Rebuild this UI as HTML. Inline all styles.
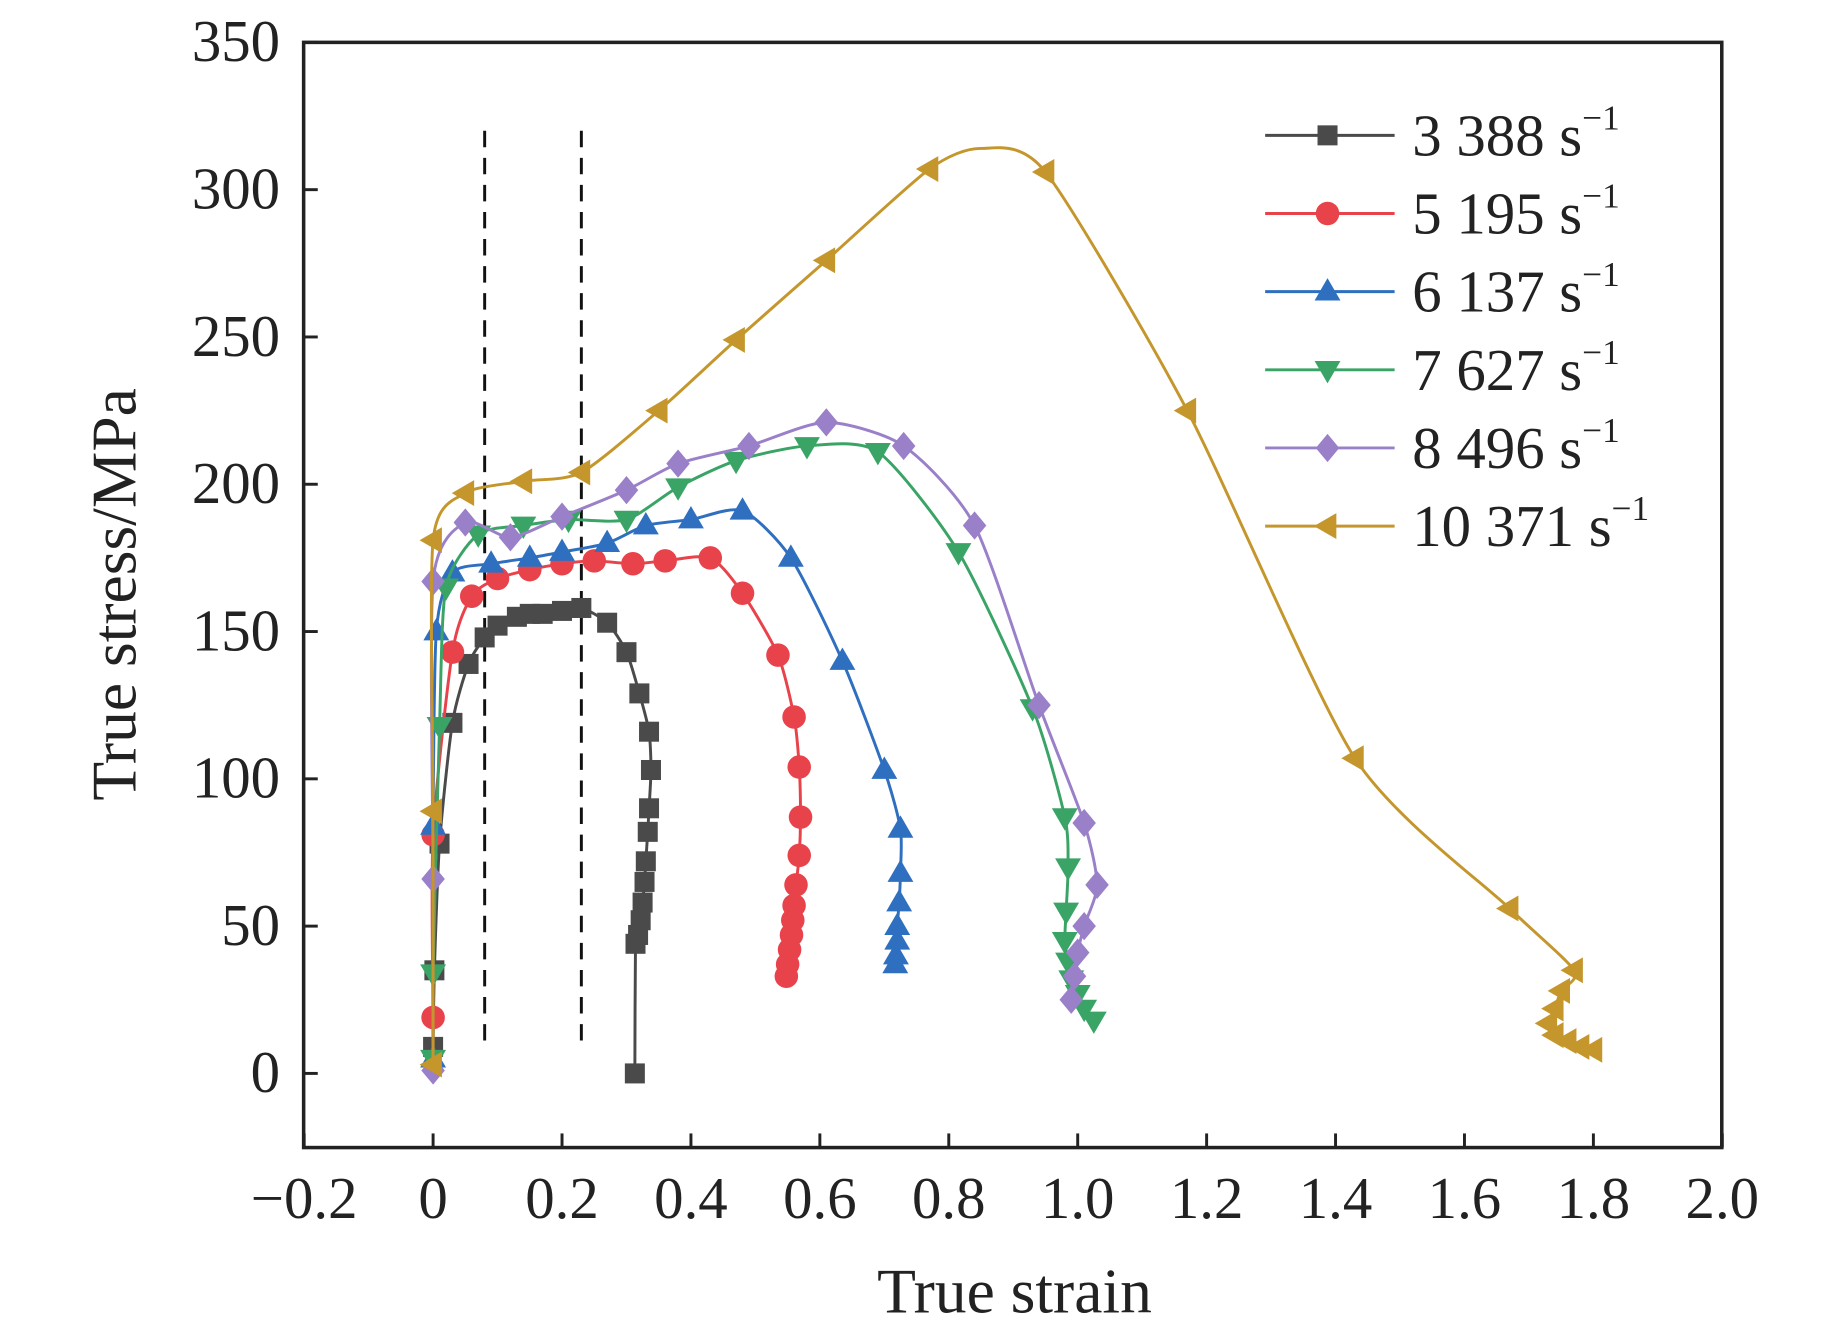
<!DOCTYPE html>
<html><head><meta charset="utf-8"><style>
html,body{margin:0;padding:0;background:#fff;}
svg{display:block;}
text{font-family:"Liberation Serif",serif;fill:#222;}
</style></head><body>
<svg id="chart" width="1843" height="1330" viewBox="0 0 1566 1130" preserveAspectRatio="none" xmlns="http://www.w3.org/2000/svg">
<rect x="0" y="0" width="1566" height="1130" fill="#fff"/>
<g id="plot"></g>
<rect x="258" y="36" width="1205" height="939" fill="none" stroke="#222" stroke-width="3"/>
<g id="axes"></g>
<text x="862" y="1115" font-size="54" text-anchor="middle">True strain</text>
<text transform="translate(115,505) rotate(-90)" font-size="54" text-anchor="middle">True stress/MPa</text>
<g id="legend"></g>
</svg>
<script>
const xTicks=[-0.2,0,0.2,0.4,0.6,0.8,1.0,1.2,1.4,1.6,1.8,2.0];
const xTickLabels=["\u22120.2","0","0.2","0.4","0.6","0.8","1.0","1.2","1.4","1.6","1.8","2.0"];
const yTicks=[0,50,100,150,200,250,300,350];
const seriesNames=["3 388","5 195","6 137","7 627","8 496","10 371"];
const s1x=[0,0.002,0.01,0.03,0.055,0.08,0.1,0.13,0.15,0.17,0.2,0.23,0.27,0.3,0.32,0.335,0.338,0.335,0.333,0.33,0.328,0.325,0.322,0.318,0.314,0.313];
const s1y=[9,35,78,119,139,148,152,155,156,156,157,158,153,143,129,116,103,90,82,72,65,58,52,47,44,0];
const s2x=[0,0,0.03,0.06,0.1,0.15,0.2,0.25,0.31,0.36,0.43,0.48,0.535,0.56,0.568,0.57,0.568,0.563,0.56,0.558,0.556,0.553,0.55,0.548];
const s2y=[19,81,143,162,168,171,173,174,173,174,175,163,142,121,104,87,74,64,57,52,47,42,37,33];
const s3x=[0,0,0.005,0.03,0.09,0.15,0.2,0.27,0.33,0.4,0.48,0.555,0.635,0.7,0.725,0.725,0.723,0.72,0.72,0.718,0.717];
const s3y=[5,84,150,170,173,175,177,180,186,188,191,175,140,103,83,68,58,50,45,40,37];
const s4x=[0,0,0.01,0.02,0.07,0.14,0.21,0.3,0.38,0.47,0.58,0.69,0.815,0.93,0.98,0.985,0.982,0.98,0.985,0.99,1.0,1.01,1.025];
const s4y=[5,34,118,165,183,186,188,188,199,208,213,211,177,124,87,70,55,45,38,32,27,22,18];
const s5x=[0,0,0,0.05,0.12,0.2,0.3,0.38,0.49,0.61,0.73,0.84,0.94,1.01,1.03,1.01,1.0,0.995,0.99];
const s5y=[1,66,167,187,182,189,198,207,213,221,213,186,125,85,64,50,41,33,25];
const s6x=[0,0,0,0.05,0.14,0.23,0.35,0.47,0.61,0.77,0.85,0.95,1.17,1.43,1.67,1.77,1.75,1.74,1.73,1.74,1.76,1.78,1.8];
const s6y=[3,89,181,197,201,204,225,249,276,307,314,306,225,107,56,35,28,22,17,13,11,9,8];
const s6marked=[1,1,1,1,1,1,1,1,1,1,0,1,1,1,1,1,1,1,1,1,1,1,1];
const guideLines=[0.08,0.23];
const colors=["#4a4a4a","#e8424b","#2f6fc0","#3aa466","#9a80c8","#c4962c"];
const shapes=["square","circle","up","down","diamond","left"];
const NS="http://www.w3.org/2000/svg";
const X=v=>368+v*(1205/2.2);
const Y=v=>912-v*(876/350);
function mk(tag,attrs,parent){const e=document.createElementNS(NS,tag);for(const k in attrs)e.setAttribute(k,attrs[k]);parent.appendChild(e);return e;}
function marker(shape,cx,cy,color,parent){
  const r=10;let e;
  if(shape==="square")e=mk("rect",{x:cx-r*0.85,y:cy-r*0.85,width:r*1.7,height:r*1.7,fill:color},parent);
  else if(shape==="circle")e=mk("circle",{cx:cx,cy:cy,r:r,fill:color},parent);
  else{let p;
    if(shape==="up")p=[[cx,cy-r*1.15],[cx+r*1.1,cy+r*0.75],[cx-r*1.1,cy+r*0.75]];
    else if(shape==="down")p=[[cx,cy+r*1.15],[cx+r*1.1,cy-r*0.75],[cx-r*1.1,cy-r*0.75]];
    else if(shape==="diamond")p=[[cx,cy-r*1.2],[cx+r,cy],[cx,cy+r*1.2],[cx-r,cy]];
    else p=[[cx-r*1.15,cy],[cx+r*0.75,cy-r*1.1],[cx+r*0.75,cy+r*1.1]];
    e=mk("polygon",{points:p.map(q=>q.join(",")).join(" "),fill:color},parent);}
  return e;
}
const plot=document.getElementById("plot");
guideLines.forEach((g,i)=>{
  const l=mk("line",{x1:X(g),x2:X(g),y1:Y(320),y2:Y(9),stroke:"#111","stroke-width":2.5,"stroke-dasharray":"14,9"},plot);
  
  
});
const allX=[s1x,s2x,s3x,s4x,s5x,s6x],allY=[s1y,s2y,s3y,s4y,s5y,s6y];
allX.forEach((xs,si)=>{
  const g=mk("g",{},plot);
  
  
  const pts=xs.map((x,i)=>[X(x),Y(allY[si][i])]);
  let d="M"+pts[0].join(",");
  for(let i=0;i<pts.length-1;i++){
    const p0=pts[Math.max(0,i-1)],p1=pts[i],p2=pts[i+1],p3=pts[Math.min(pts.length-1,i+2)];
    const t=0.12;
    d+=" C"+(p1[0]+(p2[0]-p0[0])*t)+","+(p1[1]+(p2[1]-p0[1])*t)+" "+(p2[0]-(p3[0]-p1[0])*t)+","+(p2[1]-(p3[1]-p1[1])*t)+" "+p2[0]+","+p2[1];
  }
  const path=mk("path",{d:d,fill:"none",stroke:colors[si],"stroke-width":2.5},g);
  
  
  pts.forEach((p,i)=>{
    if(si===5&&!s6marked[i])return;
    const m=marker(shapes[si],p[0],p[1],colors[si],g);
    
    
  });
});
const axes=document.getElementById("axes");
xTicks.forEach((t,i)=>{
  const l=mk("line",{x1:X(t),x2:X(t),y1:975,y2:963,stroke:"#222","stroke-width":2.5},axes);
  
  
  const tx=mk("text",{x:X(t),y:1035,"font-size":50,"text-anchor":"middle"},axes);
  tx.textContent=xTickLabels[i];
  
  
});
yTicks.forEach(t=>{
  const l=mk("line",{x1:258,x2:270,y1:Y(t),y2:Y(t),stroke:"#222","stroke-width":2.5},axes);
  
  
  const tx=mk("text",{x:238,y:Y(t)+16,"font-size":50,"text-anchor":"end"},axes);
  tx.textContent=String(t);
  
  
});
const legend=document.getElementById("legend");
seriesNames.forEach((n,i)=>{
  const y=115+i*66.4;
  const g=mk("g",{},legend);
  
  
  mk("line",{x1:1075,x2:1185,y1:y,y2:y,stroke:colors[i],"stroke-width":2.5},g);
  marker(shapes[i],1128,y,colors[i],g);
  const t=mk("text",{x:1200,y:y+17,"font-size":50},g);
  t.innerHTML=n+" s<tspan dy=\"-22\" font-size=\"30\">\u22121</tspan>";
});
</script>
</body></html>
